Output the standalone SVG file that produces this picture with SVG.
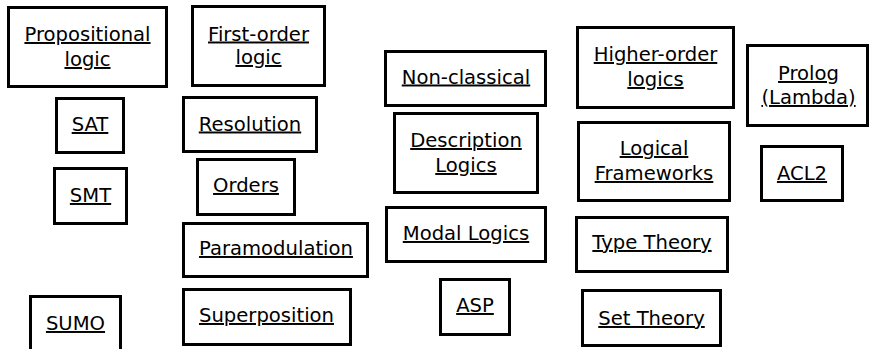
<svg xmlns="http://www.w3.org/2000/svg" width="870" height="349" viewBox="0 0 870 349">
<style>
rect{fill:#fff;stroke:#000;stroke-width:3}
text{font-family:"DejaVu Sans",sans-serif;font-size:19.6px;fill:#000;text-anchor:middle;text-decoration:underline}
</style>
<rect x="0" y="0" width="870" height="349" style="stroke:none"/>
<g id="propositional"><rect x="8.5" y="7.5" width="158" height="79"/><text x="87.5" y="41">Propositional</text><text x="87.5" y="66">logic</text></g>
<g id="first-order"><rect x="192.5" y="6.5" width="132" height="79"/><text x="258.5" y="40.5">First-order</text><text x="258.5" y="64">logic</text></g>
<g id="sat"><rect x="56.5" y="98.5" width="67" height="54"/><text x="90" y="131">SAT</text></g>
<g id="resolution"><rect x="183.5" y="97.5" width="133" height="54"/><text x="250" y="130.5">Resolution</text></g>
<g id="smt"><rect x="54.5" y="168.5" width="72" height="55"/><text x="90.5" y="202">SMT</text></g>
<g id="orders"><rect x="197.5" y="159.5" width="97" height="55"/><text x="246" y="192">Orders</text></g>
<g id="paramodulation"><rect x="183.5" y="223.5" width="184" height="53"/><text x="276" y="255">Paramodulation</text></g>
<g id="superposition"><rect x="183.5" y="289.5" width="167" height="55"/><text x="266.5" y="322">Superposition</text></g>
<g id="sumo"><rect x="30.5" y="296.5" width="90" height="60"/><text x="75.5" y="330">SUMO</text></g>
<g id="non-classical"><rect x="385.5" y="51.5" width="160" height="54"/><text x="466" y="83.5">Non-classical</text></g>
<g id="higher-order"><rect x="577.5" y="27.5" width="156" height="80"/><text x="655.5" y="61">Higher-order</text><text x="655.5" y="86">logics</text></g>
<g id="prolog"><rect x="747.5" y="45.5" width="120" height="80"/><text x="808.5" y="80">Prolog</text><text x="808.5" y="104">(Lambda)</text></g>
<g id="description-logics"><rect x="394.5" y="113.5" width="143" height="79"/><text x="466" y="147">Description</text><text x="466" y="172">Logics</text></g>
<g id="logical-frameworks"><rect x="578.5" y="122.5" width="151" height="78"/><text x="654" y="155">Logical</text><text x="654" y="180">Frameworks</text></g>
<g id="acl2"><rect x="761.5" y="146.5" width="81" height="54"/><text x="802" y="180">ACL2</text></g>
<g id="modal-logics"><rect x="386.5" y="207.5" width="159" height="54"/><text x="466" y="240">Modal Logics</text></g>
<g id="type-theory"><rect x="576.5" y="217.5" width="151" height="54"/><text x="652" y="249">Type Theory</text></g>
<g id="asp"><rect x="440.5" y="279.5" width="69" height="55"/><text x="475" y="312">ASP</text></g>
<g id="set-theory"><rect x="582.5" y="290.5" width="138" height="55"/><text x="651.5" y="325">Set Theory</text></g>
</svg>
